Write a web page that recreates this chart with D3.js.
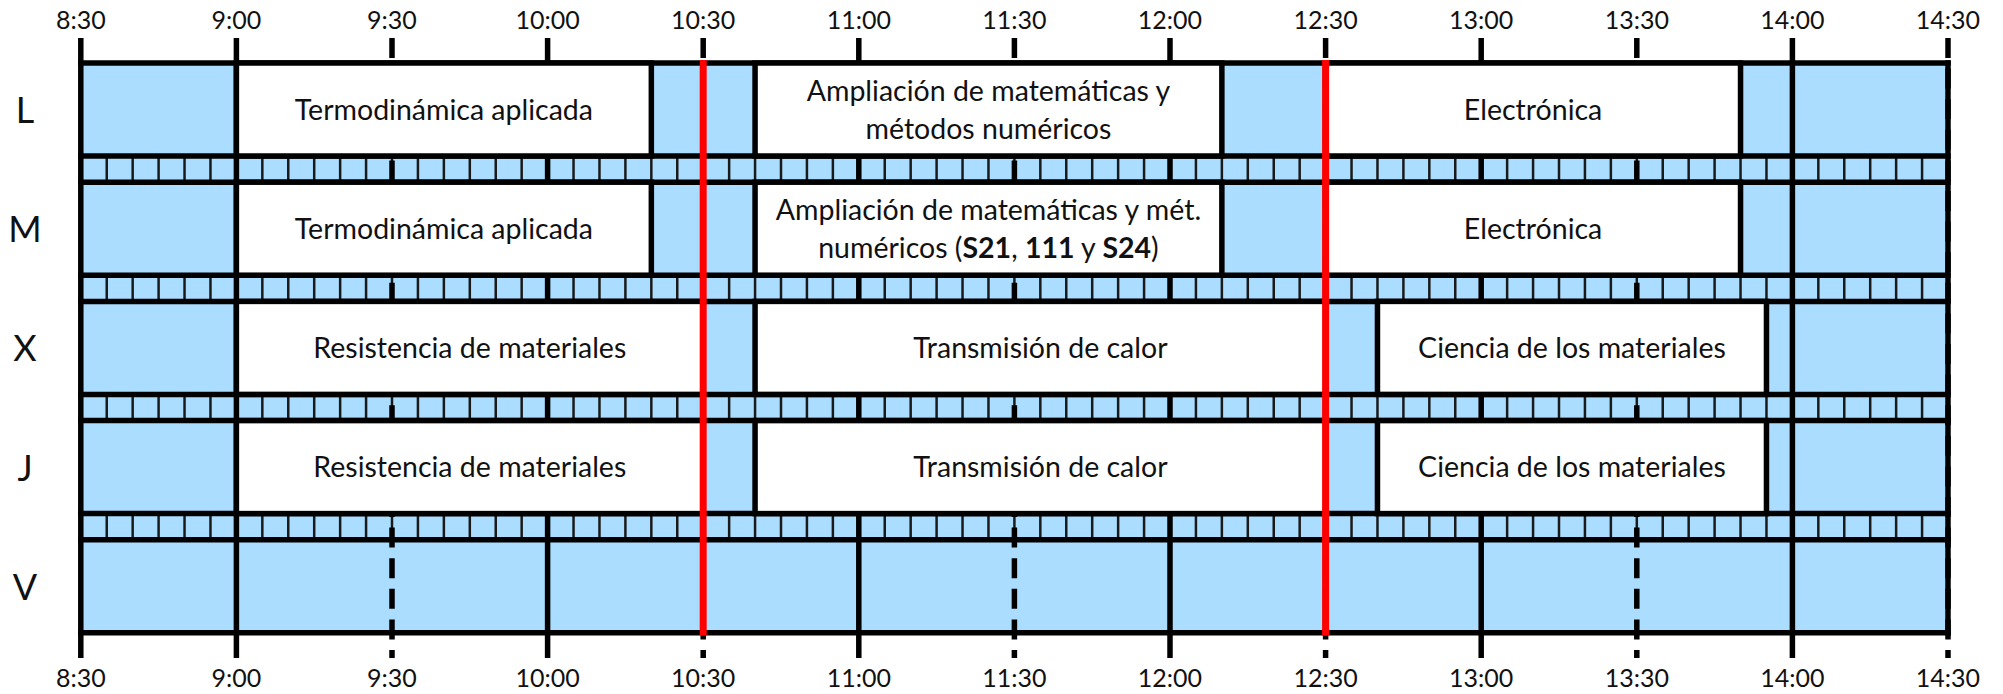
<!DOCTYPE html>
<html>
<head>
<meta charset="utf-8">
<script src="https://cdn.jsdelivr.net/npm/d3@7"></script>
<style>
  html, body { margin: 0; padding: 0; background: #fff; }
  svg { display: block; }
  text { font-family: Lato, "Noto Sans", sans-serif; fill: #111; }
</style>
</head>
<body>
<svg id="chart" width="2003" height="694"></svg>
<script>
// ---- data ----
const days = ["L", "M", "X", "J", "V"];
const tickLabels = ["8:30","9:00","9:30","10:00","10:30","11:00","11:30","12:00","12:30","13:00","13:30","14:00","14:30"];
const breakTimes = ["10:30", "12:30"];
const classDay   = ["L","L","L","M","M","M","X","X","X","J","J","J"];
const classStart = ["9:00","10:40","12:30","9:00","10:40","12:30","9:00","10:40","12:40","9:00","10:40","12:40"];
const classEnd   = ["10:20","12:10","13:50","10:20","12:10","13:50","10:30","12:30","13:55","10:30","12:30","13:55"];
const classText  = [
  ["Termodinámica aplicada"],
  ["Ampliación de matemáticas y", "métodos numéricos"],
  ["Electrónica"],
  ["Termodinámica aplicada"],
  ["Ampliación de matemáticas y mét.", "numéricos (**S21**, **111** y **S24**)"],
  ["Electrónica"],
  ["Resistencia de materiales"],
  ["Transmisión de calor"],
  ["Ciencia de los materiales"],
  ["Resistencia de materiales"],
  ["Transmisión de calor"],
  ["Ciencia de los materiales"]
];
const stepMinutes = 5;

// ---- helpers / layout ----
const toMin = s => { const p = s.split(":"); return +p[0] * 60 + +p[1]; };
const BLUE = "#aaddff";
const LW = 5.5;
const rowH = 93, period = 119.2, top0 = 63;
const tStart = toMin(tickLabels[0]), tEnd = toMin(tickLabels[tickLabels.length - 1]);

const x = d3.scaleLinear().domain([tStart, tEnd]).range([80.8, 1948]);
const rowY = d3.scaleLinear().domain([0, 1]).range([top0, top0 + period]);
const yTopAll = rowY(0), yBotAll = rowY(days.length - 1) + rowH;

const svg = d3.select("#chart");

// blue background of whole grid
svg.append("rect")
  .attr("x", x(tStart)).attr("y", yTopAll)
  .attr("width", x(tEnd) - x(tStart)).attr("height", yBotAll - yTopAll)
  .attr("fill", BLUE);

// 5-minute thin lines in strips
const strips = d3.range(days.length - 1);
const fiveMin = d3.range(tStart, tEnd + 1, stepMinutes);
strips.forEach(i => {
  const y1 = rowY(i) + rowH, y2 = rowY(i + 1);
  svg.append("g").selectAll("line").data(fiveMin).join("line")
    .attr("x1", d => x(d)).attr("x2", d => x(d))
    .attr("y1", y1).attr("y2", y2)
    .attr("stroke", "#1a1a1a").attr("stroke-width", 2.5);
});

// vertical tick lines: solid for hours (and first), dashed for half hours
const tickMins = tickLabels.map(toMin);
const solid = tickMins.filter((d, i) => d % 60 === 0 || i === 0);
const dashed = tickMins.filter((d, i) => !(d % 60 === 0 || i === 0));
svg.append("g").selectAll("line").data(dashed).join("line")
  .attr("x1", d => x(d)).attr("x2", d => x(d))
  .attr("y1", 38).attr("y2", 658)
  .attr("stroke", "#000").attr("stroke-width", LW)
  .attr("stroke-dasharray", "20 10.6");
svg.append("g").selectAll("line").data(solid).join("line")
  .attr("x1", d => x(d)).attr("x2", d => x(d))
  .attr("y1", 38).attr("y2", 658)
  .attr("stroke", "#000").attr("stroke-width", LW);

// right frame border (solid inside grid)
svg.append("line")
  .attr("x1", x(tEnd)).attr("x2", x(tEnd))
  .attr("y1", yTopAll - LW / 2).attr("y2", yBotAll + LW / 2)
  .attr("stroke", "#000").attr("stroke-width", LW);

// horizontal lines
const hLines = [];
days.forEach((d, i) => { hLines.push(rowY(i)); hLines.push(rowY(i) + rowH); });
svg.append("g").selectAll("line").data(hLines).join("line")
  .attr("x1", x(tStart) - LW / 2).attr("x2", x(tEnd) + LW / 2)
  .attr("y1", d => d).attr("y2", d => d)
  .attr("stroke", "#000").attr("stroke-width", LW);

// class boxes
const classes = classDay.map((d, i) => ({
  row: days.indexOf(d), s: toMin(classStart[i]), e: toMin(classEnd[i]), lines: classText[i]
}));
const cg = svg.append("g").selectAll("g").data(classes).join("g");
cg.append("rect")
  .attr("x", d => x(d.s)).attr("y", d => rowY(d.row))
  .attr("width", d => x(d.e) - x(d.s)).attr("height", rowH)
  .attr("fill", "#fff").attr("stroke", "#000").attr("stroke-width", LW);

const lineGap = 38;
cg.each(function(d) {
  const g = d3.select(this);
  const cx = (x(d.s) + x(d.e)) / 2;
  const cy = rowY(d.row) + rowH / 2 + 10;
  const n = d.lines.length;
  d.lines.forEach((ln, k) => {
    const t = g.append("text")
      .attr("x", cx).attr("y", cy + (k - (n - 1) / 2) * lineGap)
      .attr("text-anchor", "middle").attr("font-size", 28.5);
    ln.split("**").forEach((seg, j) => {
      if (seg === "") return;
      t.append("tspan").attr("font-weight", j % 2 === 1 ? "bold" : "normal").text(seg);
    });
  });
});

// red break lines
svg.append("g").selectAll("line").data(breakTimes.map(toMin)).join("line")
  .attr("x1", d => x(d)).attr("x2", d => x(d))
  .attr("y1", yTopAll - 3).attr("y2", yBotAll + 3)
  .attr("stroke", "#ff0000").attr("stroke-width", 7);

// tick labels top & bottom
[29, 687].forEach(yy => {
  svg.append("g").selectAll("text").data(tickLabels).join("text")
    .attr("x", d => x(toMin(d))).attr("y", yy)
    .attr("text-anchor", "middle").attr("font-size", 25)
    .text(d => d);
});

// day labels
svg.append("g").selectAll("text").data(days).join("text")
  .attr("x", 25).attr("y", (d, i) => rowY(i) + rowH / 2 + 13.5)
  .attr("text-anchor", "middle").attr("font-size", 36)
  .text(d => d);
</script>
</body>
</html>
